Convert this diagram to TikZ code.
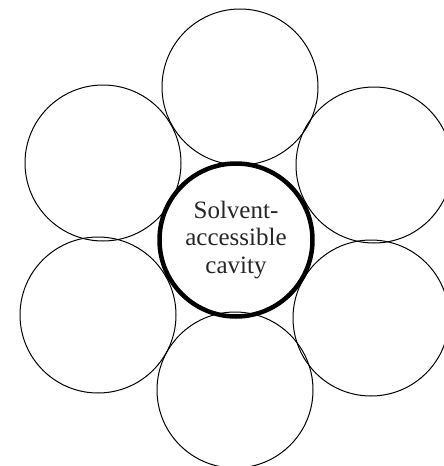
\documentclass[tikz,border=0pt]{standalone}
\usepackage{fontspec}
\setmainfont{Liberation Serif}
\begin{document}
\begin{tikzpicture}[x=1pt,y=-1pt,
  ball/.style={circle, draw, line width=1pt, inner sep=0pt, minimum size=156pt},
  cavity/.style={circle, draw, line width=4.5pt, inner sep=0pt, minimum size=153pt,
    align=center, font=\fontsize{25}{27.5}\selectfont, text=black!85}]
\useasboundingbox (0,0) rectangle (444,466);
\node[ball] (top) at (240,87) {};
\node[ball] (ul) at (103,163) {};
\node[ball] (ur) at (374,165) {};
\node[ball] (ll) at (98,315) {};
\node[ball] (lr) at (371,318) {};
\node[ball] (bot) at (235,390) {};
\node[cavity] (cav) at (236,240) {Solvent-\\accessible\\cavity};
\end{tikzpicture}
\end{document}
